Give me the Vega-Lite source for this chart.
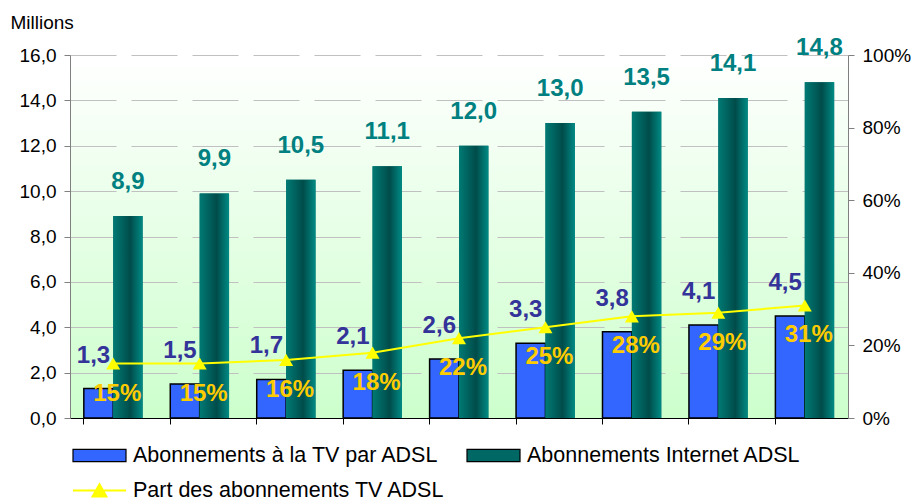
{
  "$schema": "https://vega.github.io/schema/vega-lite/v6.json",
  "width": 778,
  "height": 363,
  "autosize": {"type": "none"},
  "padding": {"left": 70, "top": 55, "right": 69, "bottom": 84},
  "background": "#ffffff",
  "datasets": {
    "barres": [
      {"periode": "1", "serie": "Abonnements à la TV par ADSL", "valeur": 1.3},
      {"periode": "2", "serie": "Abonnements à la TV par ADSL", "valeur": 1.5},
      {"periode": "3", "serie": "Abonnements à la TV par ADSL", "valeur": 1.7},
      {"periode": "4", "serie": "Abonnements à la TV par ADSL", "valeur": 2.1},
      {"periode": "5", "serie": "Abonnements à la TV par ADSL", "valeur": 2.6},
      {"periode": "6", "serie": "Abonnements à la TV par ADSL", "valeur": 3.3},
      {"periode": "7", "serie": "Abonnements à la TV par ADSL", "valeur": 3.8},
      {"periode": "8", "serie": "Abonnements à la TV par ADSL", "valeur": 4.1},
      {"periode": "9", "serie": "Abonnements à la TV par ADSL", "valeur": 4.5},
      {"periode": "1", "serie": "Abonnements Internet ADSL", "valeur": 8.9},
      {"periode": "2", "serie": "Abonnements Internet ADSL", "valeur": 9.9},
      {"periode": "3", "serie": "Abonnements Internet ADSL", "valeur": 10.5},
      {"periode": "4", "serie": "Abonnements Internet ADSL", "valeur": 11.1},
      {"periode": "5", "serie": "Abonnements Internet ADSL", "valeur": 12.0},
      {"periode": "6", "serie": "Abonnements Internet ADSL", "valeur": 13.0},
      {"periode": "7", "serie": "Abonnements Internet ADSL", "valeur": 13.5},
      {"periode": "8", "serie": "Abonnements Internet ADSL", "valeur": 14.1},
      {"periode": "9", "serie": "Abonnements Internet ADSL", "valeur": 14.8}
    ],
    "part": [
      {"periode": "1", "serie": "Part des abonnements TV ADSL", "part": 0.15},
      {"periode": "2", "serie": "Part des abonnements TV ADSL", "part": 0.15},
      {"periode": "3", "serie": "Part des abonnements TV ADSL", "part": 0.16},
      {"periode": "4", "serie": "Part des abonnements TV ADSL", "part": 0.18},
      {"periode": "5", "serie": "Part des abonnements TV ADSL", "part": 0.22},
      {"periode": "6", "serie": "Part des abonnements TV ADSL", "part": 0.25},
      {"periode": "7", "serie": "Part des abonnements TV ADSL", "part": 0.28},
      {"periode": "8", "serie": "Part des abonnements TV ADSL", "part": 0.29},
      {"periode": "9", "serie": "Part des abonnements TV ADSL", "part": 0.31}
    ]
  },
  "layer": [
    {
      "data": {"name": "barres"},
      "layer": [
        {
          "mark": {"type": "bar", "strokeWidth": 1.5},
          "encoding": {
            "x": {
              "field": "periode", "type": "nominal", "sort": null,
              "scale": {"paddingInner": 0.32, "paddingOuter": 0.16},
              "axis": {"labels": false, "title": null, "bandPosition": 0, "tickSize": 6, "domainColor": "#000000", "tickColor": "#000000", "domainWidth": 1.2, "tickWidth": 1}
            },
            "xOffset": {
              "field": "serie", "type": "nominal",
              "sort": ["Abonnements à la TV par ADSL", "Abonnements Internet ADSL"],
              "scale": {"paddingInner": 0, "paddingOuter": 0}
            },
            "y": {
              "field": "valeur", "type": "quantitative",
              "scale": {"domain": [0, 16], "nice": false},
              "axis": {
                "values": [0, 2, 4, 6, 8, 10, 12, 14, 16], "format": ".1f",
                "title": "Millions", "titleAngle": 0, "titleAlign": "left", "titleBaseline": "middle",
                "titleX": -60, "titleY": -33, "titleFontSize": 19, "titleFontWeight": "normal", "titleColor": "#000000",
                "labelFontSize": 19, "tickSize": 6, "labelPadding": 8,
                "domainColor": "#808080", "tickColor": "#808080",
                "grid": true, "gridColor": "#c0c0c0", "gridDash": [46, 15], "gridWidth": 1.2
              }
            },
            "color": {
              "field": "serie", "type": "nominal",
              "scale": {
                "domain": ["Abonnements à la TV par ADSL", "Abonnements Internet ADSL"],
                "range": ["#3366ff", "#006864"]
              },
              "legend": {"orient": "none", "legendX": 2, "legendY": 373, "direction": "horizontal", "title": null, "symbolType": "M-1,-0.23H1V0.23H-1Z", "symbolSize": 2809, "symbolStrokeColor": "#000000", "symbolStrokeWidth": 1.2, "labelFontSize": 21.5, "labelOffset": 6, "columnPadding": 25, "labelLimit": 400}
            },
            "stroke": {
              "field": "serie", "type": "nominal",
              "scale": {
                "domain": ["Abonnements à la TV par ADSL", "Abonnements Internet ADSL"],
                "range": ["#000000", "rgba(0,0,0,0)"]
              },
              "legend": null
            }
          }
        },
        {
          "transform": [{"filter": "datum.serie === 'Abonnements Internet ADSL'"}],
          "mark": {"type": "bar", "color": {"gradient": "linear", "x1": 0, "y1": 0, "x2": 1, "y2": 0, "stops": [{"offset": 0, "color": "#007a74"}, {"offset": 0.58, "color": "#004c4a"}, {"offset": 1, "color": "#008a84"}]}},
          "encoding": {
            "x": {"field": "periode", "type": "nominal", "sort": null},
            "xOffset": {"field": "serie", "type": "nominal", "sort": ["Abonnements à la TV par ADSL", "Abonnements Internet ADSL"]},
            "y": {"field": "valeur", "type": "quantitative", "scale": {"domain": [0, 16], "nice": false}}
          }
        },
        {
          "transform": [{"filter": "datum.serie === 'Abonnements à la TV par ADSL'"}],
          "mark": {"type": "text", "fontSize": 24, "fontWeight": "bold", "color": "#333399", "dy": -33, "dx": -5},
          "encoding": {
            "x": {"field": "periode", "type": "nominal", "sort": null},
            "xOffset": {"field": "serie", "type": "nominal", "sort": ["Abonnements à la TV par ADSL", "Abonnements Internet ADSL"]},
            "y": {"field": "valeur", "type": "quantitative", "scale": {"domain": [0, 16], "nice": false}},
            "text": {"field": "valeur", "type": "quantitative", "format": ".1f"}
          }
        },
        {
          "transform": [{"filter": "datum.serie === 'Abonnements Internet ADSL'"}],
          "mark": {"type": "text", "fontSize": 24, "fontWeight": "bold", "color": "#008080", "dy": -34},
          "encoding": {
            "x": {"field": "periode", "type": "nominal", "sort": null},
            "xOffset": {"field": "serie", "type": "nominal", "sort": ["Abonnements à la TV par ADSL", "Abonnements Internet ADSL"]},
            "y": {"field": "valeur", "type": "quantitative", "scale": {"domain": [0, 16], "nice": false}},
            "text": {"field": "valeur", "type": "quantitative", "format": ".1f"}
          }
        }
      ]
    },
    {
      "data": {"name": "part"},
      "layer": [
        {
          "mark": {"type": "line", "strokeWidth": 2},
          "encoding": {
            "x": {"field": "periode", "type": "nominal", "sort": null},
            "y": {
              "field": "part", "type": "quantitative",
              "scale": {"domain": [0, 1], "nice": false},
              "axis": {"orient": "right", "values": [0, 0.2, 0.4, 0.6, 0.8, 1], "format": ".0%", "title": null, "grid": false, "labelFontSize": 19, "tickSize": 6, "labelPadding": 8, "domainColor": "#808080", "tickColor": "#808080"}
            },
            "color": {
              "field": "serie", "type": "nominal",
              "scale": {"range": ["#ffff00"]},
              "legend": {"orient": "none", "legendX": 2, "legendY": 408, "title": null, "symbolType": "M-1,0H1M-0.26,0.23L0,-0.23L0.26,0.23Z", "symbolSize": 2809, "symbolStrokeWidth": 2, "symbolFillColor": "#ffff00", "labelFontSize": 21.5, "labelOffset": 6, "labelLimit": 400}
            }
          }
        },
        {
          "mark": {"type": "point", "shape": "triangle-up", "filled": true, "size": 196, "color": "#ffff00", "opacity": 1},
          "encoding": {
            "x": {"field": "periode", "type": "nominal", "sort": null},
            "y": {"field": "part", "type": "quantitative", "scale": {"domain": [0, 1], "nice": false}}
          }
        },
        {
          "mark": {"type": "text", "fontSize": 24, "fontWeight": "bold", "color": "#ffcc00", "dy": 30, "dx": 4},
          "encoding": {
            "x": {"field": "periode", "type": "nominal", "sort": null},
            "y": {"field": "part", "type": "quantitative", "scale": {"domain": [0, 1], "nice": false}},
            "text": {"field": "part", "type": "quantitative", "format": ".0%"}
          }
        }
      ]
    }
  ],
  "resolve": {"scale": {"y": "independent", "color": "independent"}},
  "config": {
    "font": "Liberation Sans",
    "view": {
      "stroke": null,
      "fill": {"gradient": "linear", "x1": 0, "y1": 0, "x2": 0, "y2": 1, "stops": [{"offset": 0, "color": "#ffffff"}, {"offset": 1, "color": "#ccffcc"}]}
    },
    "locale": {"number": {"decimal": ",", "thousands": " ", "grouping": [3], "currency": ["", " €"]}},
    "axis": {"labelFont": "Liberation Sans", "labelColor": "#000000", "titleFont": "Liberation Sans"},
    "legend": {"labelFont": "Liberation Sans", "labelColor": "#000000"},
    "text": {"font": "Liberation Sans"}
  }
}
